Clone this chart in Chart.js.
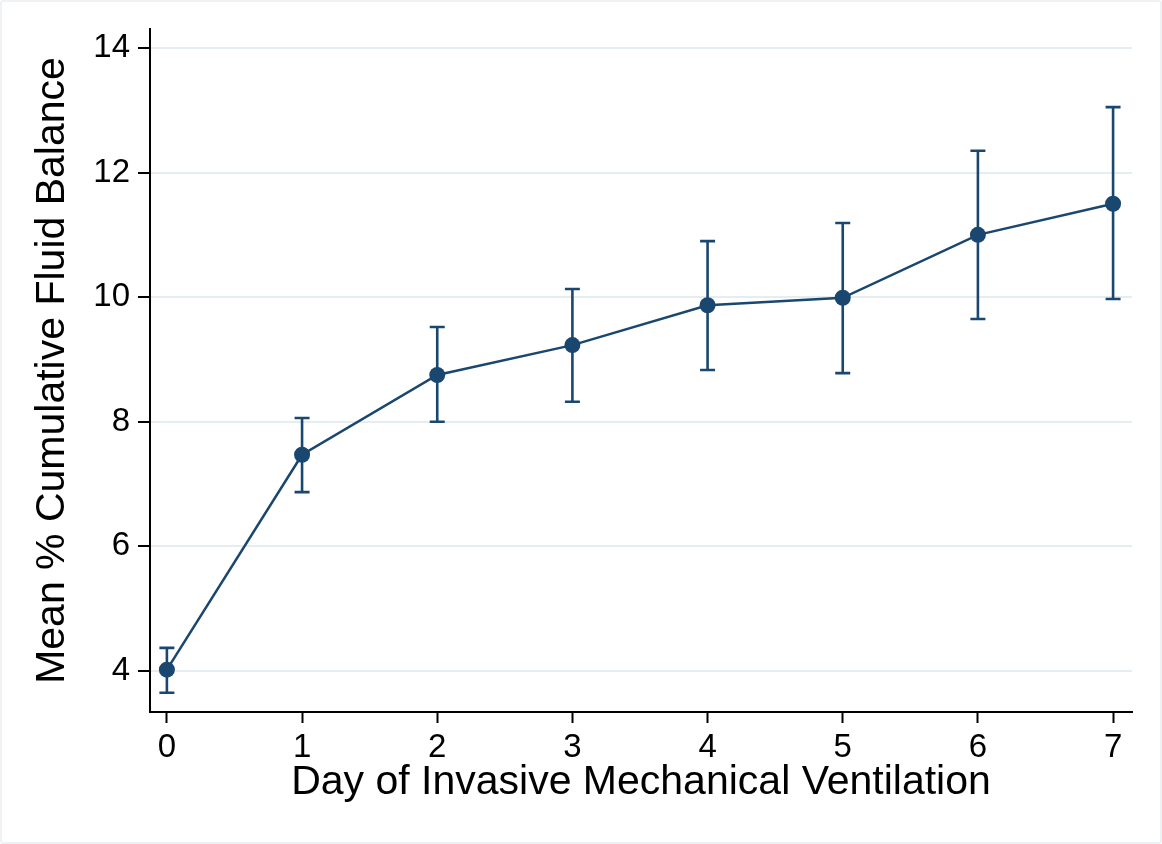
<!DOCTYPE html>
<html>
<head>
<meta charset="utf-8">
<script src="https://cdn.jsdelivr.net/npm/chart.js@4/dist/chart.umd.min.js"></script>
<style>
  html, body { margin: 0; padding: 0; background: #fff; }
  #wrap { position: relative; width: 1162px; height: 844px; }
  #frame { position: absolute; left: 0; top: 0; width: 1162px; height: 844px; box-sizing: border-box; border: 2px solid #eef2f4; border-radius: 3px; pointer-events: none; }
  canvas { display: block; }
</style>
</head>
<body>
<div id="wrap">
  <canvas id="c" width="1162" height="844"></canvas>
  <div id="frame"></div>
</div>
<script>
const days = [0, 1, 2, 3, 4, 5, 6, 7];
const meanBalance = [4.02, 7.47, 8.75, 9.23, 9.87, 9.99, 11.0, 11.5];
const upperCI = [4.37, 8.06, 9.52, 10.13, 10.90, 11.19, 12.35, 13.05];
const lowerCI = [3.65, 6.87, 8.00, 8.32, 8.83, 8.78, 9.65, 9.97];
const xTickValues = [0, 1, 2, 3, 4, 5, 6, 7];
const yTickValues = [4, 6, 8, 10, 12, 14];
const xTitle = 'Day of Invasive Mechanical Ventilation';
const yTitle = 'Mean % Cumulative Fluid Balance';

const navy = '#1a476f';
const fontFamily = "'Liberation Sans', Arial, Helvetica, sans-serif";

const errorBars = {
  id: 'errorBars',
  beforeDatasetsDraw(chart) {
    const { ctx, scales: { x, y } } = chart;
    ctx.save();
    ctx.strokeStyle = navy;
    ctx.lineWidth = 2.6;
    const half = 7.5;
    days.forEach((d, i) => {
      const px = x.getPixelForValue(d);
      const pHi = y.getPixelForValue(upperCI[i]);
      const pLo = y.getPixelForValue(lowerCI[i]);
      ctx.beginPath();
      ctx.moveTo(px, pHi); ctx.lineTo(px, pLo);
      ctx.moveTo(px - half, pHi); ctx.lineTo(px + half, pHi);
      ctx.moveTo(px - half, pLo); ctx.lineTo(px + half, pLo);
      ctx.stroke();
    });
    ctx.restore();
  }
};

new Chart(document.getElementById('c'), {
  type: 'line',
  data: {
    datasets: [{
      data: days.map((d, i) => ({ x: d, y: meanBalance[i] })),
      borderColor: navy,
      backgroundColor: navy,
      borderWidth: 2.5,
      pointRadius: 8,
      pointBorderWidth: 0,
      pointBackgroundColor: navy,
      tension: 0
    }]
  },
  options: {
    responsive: false,
    animation: false,
    layout: { padding: { top: 29, right: 30, left: 0, bottom: 0 } },
    plugins: { legend: { display: false }, tooltip: { enabled: false } },
    scales: {
      x: {
        type: 'linear',
        min: -0.125,
        max: 7.14,
        afterFit(s) { s.height = 132; },
        afterBuildTicks(s) { s.ticks = xTickValues.map(v => ({ value: v })); },
        border: { display: true, color: '#000', width: 2 },
        grid: { drawOnChartArea: false, drawTicks: true, tickLength: 11, tickColor: '#000', tickWidth: 2 },
        ticks: { color: '#000', padding: 5, font: { family: fontFamily, size: 33 }, maxRotation: 0 },
        title: { display: true, text: xTitle, color: '#000', font: { family: fontFamily, size: 41, lineHeight: 1 }, padding: { top: 0, bottom: 41 } }
      },
      y: {
        type: 'linear',
        min: 3.34,
        max: 14.305,
        afterFit(s) { s.width = 150; },
        afterBuildTicks(s) { s.ticks = yTickValues.map(v => ({ value: v })); },
        border: { display: true, color: '#000', width: 2 },
        grid: { color: '#e6edf0', lineWidth: 2, drawTicks: true, tickLength: 12, tickColor: '#000', tickWidth: 2 },
        ticks: { color: '#000', padding: 8, font: { family: fontFamily, size: 33 } },
        title: { display: true, text: yTitle, color: '#000', font: { family: fontFamily, size: 41, lineHeight: 1 }, padding: { top: 32, bottom: 0 } }
      }
    }
  },
  plugins: [errorBars]
});
</script>
</body>
</html>
